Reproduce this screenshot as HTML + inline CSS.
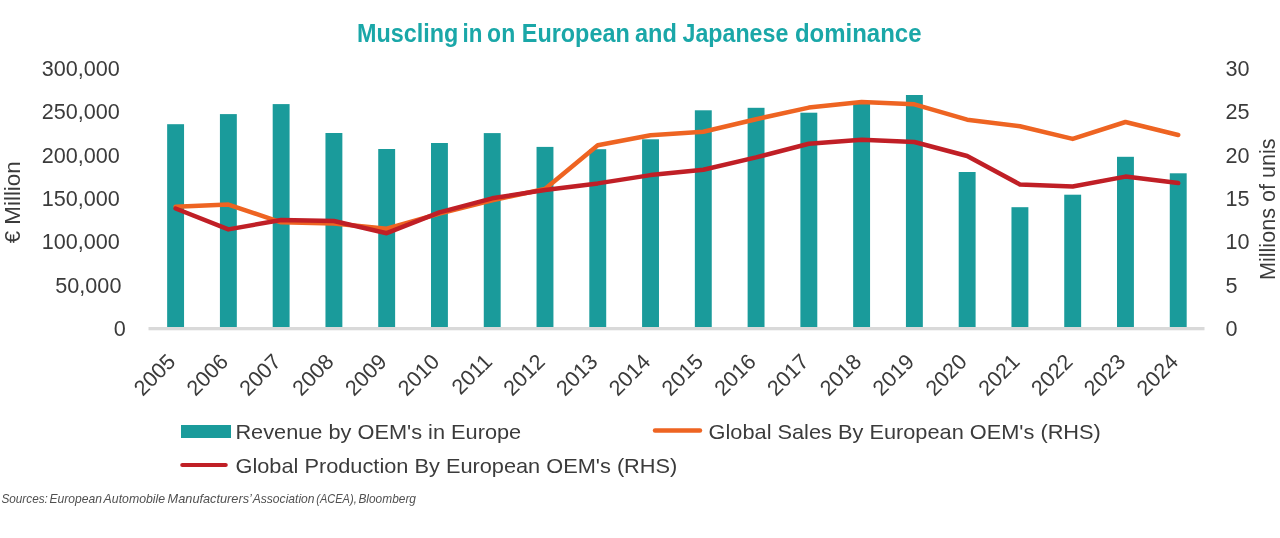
<!DOCTYPE html><html><head><meta charset="utf-8"><style>html,body{margin:0;padding:0;background:#fff;width:1280px;height:538px;overflow:hidden}svg{display:block;will-change:transform}text{font-family:"Liberation Sans",sans-serif}</style></head><body>
<svg width="1280" height="538" viewBox="0 0 1280 538">
<rect x="0" y="0" width="1280" height="538" fill="#fff"/>
<text x="357.0" y="42" font-size="26.6" font-weight="bold" fill="#1aa7a8" textLength="101.3" lengthAdjust="spacingAndGlyphs">Muscling</text>
<text x="462.5" y="42" font-size="26.6" font-weight="bold" fill="#1aa7a8" textLength="19.9" lengthAdjust="spacingAndGlyphs">in</text>
<text x="487.1" y="42" font-size="26.6" font-weight="bold" fill="#1aa7a8" textLength="28.1" lengthAdjust="spacingAndGlyphs">on</text>
<text x="521.8" y="42" font-size="26.6" font-weight="bold" fill="#1aa7a8" textLength="107.9" lengthAdjust="spacingAndGlyphs">European</text>
<text x="635.0" y="42" font-size="26.6" font-weight="bold" fill="#1aa7a8" textLength="41.9" lengthAdjust="spacingAndGlyphs">and</text>
<text x="682.5" y="42" font-size="26.6" font-weight="bold" fill="#1aa7a8" textLength="105.8" lengthAdjust="spacingAndGlyphs">Japanese</text>
<text x="794.9" y="42" font-size="26.6" font-weight="bold" fill="#1aa7a8" textLength="126.6" lengthAdjust="spacingAndGlyphs">dominance</text>
<text x="125.7" y="335.8" font-size="21.6" fill="#3b3b3b" text-anchor="end">0</text>
<text x="121.4" y="292.5" font-size="21.6" fill="#3b3b3b" text-anchor="end">50,000</text>
<text x="119.7" y="249.2" font-size="21.6" fill="#3b3b3b" text-anchor="end">100,000</text>
<text x="119.7" y="205.9" font-size="21.6" fill="#3b3b3b" text-anchor="end">150,000</text>
<text x="119.7" y="162.7" font-size="21.6" fill="#3b3b3b" text-anchor="end">200,000</text>
<text x="119.7" y="119.4" font-size="21.6" fill="#3b3b3b" text-anchor="end">250,000</text>
<text x="119.7" y="76.1" font-size="21.6" fill="#3b3b3b" text-anchor="end">300,000</text>
<text x="1225.5" y="335.8" font-size="21.6" fill="#3b3b3b">0</text>
<text x="1225.5" y="292.5" font-size="21.6" fill="#3b3b3b">5</text>
<text x="1225.5" y="249.2" font-size="21.6" fill="#3b3b3b">10</text>
<text x="1225.5" y="205.9" font-size="21.6" fill="#3b3b3b">15</text>
<text x="1225.5" y="162.7" font-size="21.6" fill="#3b3b3b">20</text>
<text x="1225.5" y="119.4" font-size="21.6" fill="#3b3b3b">25</text>
<text x="1225.5" y="76.1" font-size="21.6" fill="#3b3b3b">30</text>
<text transform="translate(19.8,243.3) rotate(-90)" x="0" y="0" font-size="21.6" fill="#3b3b3b" textLength="82" lengthAdjust="spacingAndGlyphs">€ Million</text>
<text transform="translate(1275.3,280) rotate(-90)" x="0" y="0" font-size="21.6" fill="#3b3b3b" textLength="141.5" lengthAdjust="spacingAndGlyphs">Millions of unis</text>
<rect x="167.15" y="124.20" width="16.9" height="202.80" fill="#1a9b9b"/>
<rect x="219.92" y="114.10" width="16.9" height="212.90" fill="#1a9b9b"/>
<rect x="272.69" y="104.10" width="16.9" height="222.90" fill="#1a9b9b"/>
<rect x="325.46" y="133.00" width="16.9" height="194.00" fill="#1a9b9b"/>
<rect x="378.23" y="149.00" width="16.9" height="178.00" fill="#1a9b9b"/>
<rect x="431.00" y="143.00" width="16.9" height="184.00" fill="#1a9b9b"/>
<rect x="483.77" y="133.10" width="16.9" height="193.90" fill="#1a9b9b"/>
<rect x="536.54" y="146.90" width="16.9" height="180.10" fill="#1a9b9b"/>
<rect x="589.31" y="149.20" width="16.9" height="177.80" fill="#1a9b9b"/>
<rect x="642.08" y="139.30" width="16.9" height="187.70" fill="#1a9b9b"/>
<rect x="694.85" y="110.30" width="16.9" height="216.70" fill="#1a9b9b"/>
<rect x="747.62" y="107.80" width="16.9" height="219.20" fill="#1a9b9b"/>
<rect x="800.39" y="112.70" width="16.9" height="214.30" fill="#1a9b9b"/>
<rect x="853.16" y="103.00" width="16.9" height="224.00" fill="#1a9b9b"/>
<rect x="905.93" y="95.00" width="16.9" height="232.00" fill="#1a9b9b"/>
<rect x="958.70" y="172.00" width="16.9" height="155.00" fill="#1a9b9b"/>
<rect x="1011.47" y="207.20" width="16.9" height="119.80" fill="#1a9b9b"/>
<rect x="1064.24" y="194.70" width="16.9" height="132.30" fill="#1a9b9b"/>
<rect x="1117.01" y="156.80" width="16.9" height="170.20" fill="#1a9b9b"/>
<rect x="1169.78" y="173.30" width="16.9" height="153.70" fill="#1a9b9b"/>
<rect x="148.5" y="327" width="1056.0" height="3.3" fill="#d9d9d9"/>
<polyline points="175.60,206.70 228.37,204.60 281.14,222.30 333.91,223.60 386.68,228.70 439.45,213.60 492.22,200.20 544.99,189.00 597.76,145.20 650.53,135.30 703.30,131.80 756.07,119.20 808.84,107.60 861.61,102.00 914.38,104.30 967.15,119.70 1019.92,126.20 1072.69,138.90 1125.46,122.00 1178.23,135.00" fill="none" stroke="#ee6422" stroke-width="4.5" stroke-linejoin="round" stroke-linecap="round"/>
<polyline points="175.60,208.50 228.37,229.40 281.14,220.00 333.91,221.00 386.68,233.20 439.45,212.30 492.22,198.30 544.99,190.00 597.76,183.40 650.53,175.10 703.30,169.70 756.07,157.40 808.84,143.70 861.61,139.80 914.38,142.00 967.15,156.00 1019.92,184.40 1072.69,186.50 1125.46,176.60 1178.23,183.10" fill="none" stroke="#c01f26" stroke-width="4.5" stroke-linejoin="round" stroke-linecap="round"/>
<text transform="translate(176.80,363) rotate(-45)" x="0" y="0" font-size="21.6" fill="#3b3b3b" text-anchor="end">2005</text>
<text transform="translate(229.57,363) rotate(-45)" x="0" y="0" font-size="21.6" fill="#3b3b3b" text-anchor="end">2006</text>
<text transform="translate(282.34,363) rotate(-45)" x="0" y="0" font-size="21.6" fill="#3b3b3b" text-anchor="end">2007</text>
<text transform="translate(335.11,363) rotate(-45)" x="0" y="0" font-size="21.6" fill="#3b3b3b" text-anchor="end">2008</text>
<text transform="translate(387.88,363) rotate(-45)" x="0" y="0" font-size="21.6" fill="#3b3b3b" text-anchor="end">2009</text>
<text transform="translate(440.65,363) rotate(-45)" x="0" y="0" font-size="21.6" fill="#3b3b3b" text-anchor="end">2010</text>
<text transform="translate(493.42,363) rotate(-45)" x="0" y="0" font-size="21.6" fill="#3b3b3b" text-anchor="end">2011</text>
<text transform="translate(546.19,363) rotate(-45)" x="0" y="0" font-size="21.6" fill="#3b3b3b" text-anchor="end">2012</text>
<text transform="translate(598.96,363) rotate(-45)" x="0" y="0" font-size="21.6" fill="#3b3b3b" text-anchor="end">2013</text>
<text transform="translate(651.73,363) rotate(-45)" x="0" y="0" font-size="21.6" fill="#3b3b3b" text-anchor="end">2014</text>
<text transform="translate(704.50,363) rotate(-45)" x="0" y="0" font-size="21.6" fill="#3b3b3b" text-anchor="end">2015</text>
<text transform="translate(757.27,363) rotate(-45)" x="0" y="0" font-size="21.6" fill="#3b3b3b" text-anchor="end">2016</text>
<text transform="translate(810.04,363) rotate(-45)" x="0" y="0" font-size="21.6" fill="#3b3b3b" text-anchor="end">2017</text>
<text transform="translate(862.81,363) rotate(-45)" x="0" y="0" font-size="21.6" fill="#3b3b3b" text-anchor="end">2018</text>
<text transform="translate(915.58,363) rotate(-45)" x="0" y="0" font-size="21.6" fill="#3b3b3b" text-anchor="end">2019</text>
<text transform="translate(968.35,363) rotate(-45)" x="0" y="0" font-size="21.6" fill="#3b3b3b" text-anchor="end">2020</text>
<text transform="translate(1021.12,363) rotate(-45)" x="0" y="0" font-size="21.6" fill="#3b3b3b" text-anchor="end">2021</text>
<text transform="translate(1073.89,363) rotate(-45)" x="0" y="0" font-size="21.6" fill="#3b3b3b" text-anchor="end">2022</text>
<text transform="translate(1126.66,363) rotate(-45)" x="0" y="0" font-size="21.6" fill="#3b3b3b" text-anchor="end">2023</text>
<text transform="translate(1179.43,363) rotate(-45)" x="0" y="0" font-size="21.6" fill="#3b3b3b" text-anchor="end">2024</text>
<rect x="181" y="425" width="50" height="13" fill="#1a9b9b"/>
<text x="235.4" y="439" font-size="21.0" fill="#3b3b3b" textLength="285.8" lengthAdjust="spacingAndGlyphs">Revenue by OEM's in Europe</text>
<line x1="655" y1="430.5" x2="700" y2="430.5" stroke="#ee6422" stroke-width="4.4" stroke-linecap="round"/>
<text x="708.6" y="439" font-size="21.0" fill="#3b3b3b" textLength="392.2" lengthAdjust="spacingAndGlyphs">Global Sales By European OEM's (RHS)</text>
<line x1="182.3" y1="465" x2="225.7" y2="465" stroke="#c01f26" stroke-width="4.2" stroke-linecap="round"/>
<text x="235.5" y="472.6" font-size="21.0" fill="#3b3b3b" textLength="441.8" lengthAdjust="spacingAndGlyphs">Global Production By European OEM's (RHS)</text>
<text x="1.4" y="502.8" font-size="13" font-style="italic" fill="#505050" textLength="46.5" lengthAdjust="spacingAndGlyphs">Sources:</text>
<text x="49.4" y="502.8" font-size="13" font-style="italic" fill="#505050" textLength="52.6" lengthAdjust="spacingAndGlyphs">European</text>
<text x="103.6" y="502.8" font-size="13" font-style="italic" fill="#505050" textLength="61.6" lengthAdjust="spacingAndGlyphs">Automobile</text>
<text x="167.6" y="502.8" font-size="13" font-style="italic" fill="#505050" textLength="84.3" lengthAdjust="spacingAndGlyphs">Manufacturers’</text>
<text x="252.7" y="502.8" font-size="13" font-style="italic" fill="#505050" textLength="61.9" lengthAdjust="spacingAndGlyphs">Association</text>
<text x="316.3" y="502.8" font-size="13" font-style="italic" fill="#505050" textLength="40.4" lengthAdjust="spacingAndGlyphs">(ACEA),</text>
<text x="358.4" y="502.8" font-size="13" font-style="italic" fill="#505050" textLength="57.6" lengthAdjust="spacingAndGlyphs">Bloomberg</text>
</svg></body></html>
